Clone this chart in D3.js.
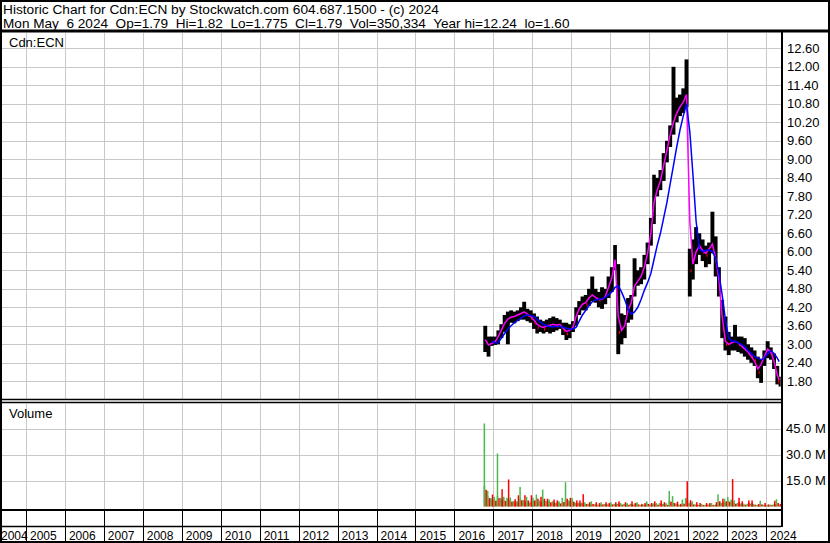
<!DOCTYPE html>
<html>
<head>
<meta charset="utf-8">
<script src="https://cdn.jsdelivr.net/npm/d3@7"></script>
<style>
body { margin: 0; background: #fff; }
svg { display: block; font-family: "Liberation Sans", Arial, sans-serif; }
text { white-space: pre; }
</style>
</head>
<body>
<svg id="main" width="830" height="543"></svg>
<script>
const width = 830;
const height = 543;

// monthly samples (Oct 2016 - May 2024)
const months = [
    '2016-10', '2016-11', '2016-12',
    '2017-01', '2017-02', '2017-03', '2017-04', '2017-05', '2017-06', '2017-07', '2017-08', '2017-09', '2017-10', '2017-11', '2017-12',
    '2018-01', '2018-02', '2018-03', '2018-04', '2018-05', '2018-06', '2018-07', '2018-08', '2018-09', '2018-10', '2018-11', '2018-12',
    '2019-01', '2019-02', '2019-03', '2019-04', '2019-05', '2019-06', '2019-07', '2019-08', '2019-09', '2019-10', '2019-11', '2019-12',
    '2020-01', '2020-02', '2020-03', '2020-04', '2020-05', '2020-06', '2020-07', '2020-08', '2020-09', '2020-10', '2020-11', '2020-12',
    '2021-01', '2021-02', '2021-03', '2021-04', '2021-05', '2021-06', '2021-07', '2021-08', '2021-09', '2021-10', '2021-11', '2021-12',
    '2022-01', '2022-02', '2022-03', '2022-04', '2022-05', '2022-06', '2022-07', '2022-08', '2022-09', '2022-10', '2022-11', '2022-12',
    '2023-01', '2023-02', '2023-03', '2023-04', '2023-05', '2023-06', '2023-07', '2023-08', '2023-09', '2023-10', '2023-11', '2023-12',
    '2024-01', '2024-02', '2024-03', '2024-04', '2024-05'
];
const lastDay = '2024-05-06';

const highs = [
    3.6, 3.25, 3.25, 3.25, 3.45, 3.65, 3.95, 4.06, 4.1, 4.06,
    4.1, 4.2, 4.38, 4.15, 4.1, 4.0, 3.9, 3.8, 3.75, 3.8,
    3.85, 3.9, 3.85, 3.8, 3.7, 3.7, 3.65, 3.75, 4.2, 4.4,
    4.55, 4.6, 4.8, 5.2, 4.8, 4.7, 4.85, 4.8, 5.2, 5.5,
    6.22, 5.6, 4.0, 3.95, 4.5, 4.6, 5.79, 5.4, 5.5, 5.9,
    6.3, 7.1, 8.5, 8.4, 8.65, 9.2, 9.6, 10.1, 12.0, 11.0,
    11.1, 11.3, 12.24, 6.1, 6.4, 6.8, 6.6, 6.4, 6.2, 6.3,
    7.3, 6.5, 5.5, 4.44, 3.9, 3.4, 3.25, 3.63, 3.25, 3.25,
    3.2, 3.0, 2.9, 2.8, 2.6, 2.5, 2.8, 3.1, 2.9, 2.7,
    2.3, 1.95
];
const lows = [
    2.75, 2.6, 2.95, 2.98, 3.0, 3.2, 3.4, 3.0, 3.7, 3.68,
    3.75, 3.8, 3.8, 3.75, 3.7, 3.5, 3.35, 3.4, 3.35, 3.4,
    3.35, 3.4, 3.45, 3.5, 3.3, 3.14, 3.2, 3.4, 3.6, 3.95,
    4.1, 4.1, 4.25, 4.4, 4.35, 4.2, 4.15, 4.3, 4.5, 4.7,
    5.4, 2.68, 3.0, 3.2, 3.7, 3.8, 4.55, 4.9, 4.95, 5.1,
    5.6, 6.2, 6.9, 7.8, 8.0, 8.3, 8.9, 9.4, 9.8, 10.2,
    10.4, 10.5, 10.7, 4.55, 5.1, 5.6, 5.9, 5.7, 5.5, 5.6,
    5.95, 5.2, 4.55, 3.2, 2.8, 2.65, 2.8, 2.8, 2.75, 2.7,
    2.6, 2.5, 2.4, 2.3, 1.9, 1.75, 2.3, 2.55, 2.5, 2.2,
    1.7, 1.63
];
const closes = [
    2.95, 2.95, 3.05, 3.1, 3.3, 3.5, 3.75, 3.85, 3.9, 3.9,
    3.95, 4.0, 4.05, 3.95, 3.85, 3.7, 3.55, 3.55, 3.5, 3.6,
    3.6, 3.65, 3.6, 3.65, 3.45, 3.35, 3.45, 3.6, 4.0, 4.2,
    4.35, 4.3, 4.55, 4.65, 4.5, 4.45, 4.45, 4.6, 4.9, 5.3,
    5.7, 3.4, 3.4, 3.7, 4.2, 4.4, 5.0, 5.1, 5.25, 5.6,
    6.1, 6.7, 8.0, 8.1, 8.4, 9.0, 9.4, 9.9, 10.3, 10.6,
    10.8, 11.0, 11.5, 5.4, 5.9, 6.2, 6.2, 6.0, 5.9, 6.1,
    6.3, 5.6, 4.8, 3.5, 3.0, 3.0, 3.0, 3.1, 3.0, 2.95,
    2.85, 2.7, 2.6, 2.5, 2.1, 2.3, 2.6, 2.85, 2.7, 2.3,
    1.85, 1.79
];
// short average (magenta) and long average (blue), read at mid-month
const shortAvg = [
    3.15, 2.98, 3.03, 3.08, 3.25, 3.46, 3.68, 3.82, 3.88, 3.9,
    3.95, 4.0, 4.05, 3.98, 3.9, 3.78, 3.65, 3.58, 3.55, 3.6,
    3.62, 3.65, 3.62, 3.65, 3.52, 3.42, 3.45, 3.55, 3.9, 4.15,
    4.3, 4.35, 4.5, 4.6, 4.52, 4.45, 4.45, 4.55, 4.85, 5.15,
    5.75, 3.9, 3.45, 3.6, 4.1, 4.35, 4.9, 5.05, 5.2, 5.5,
    5.95, 6.6, 7.6, 8.0, 8.3, 8.8, 9.3, 9.8, 10.2, 10.5,
    10.7, 10.85, 11.1, 7.0, 5.6, 6.0, 6.2, 6.05, 5.95, 6.1,
    6.25, 5.8, 5.1, 3.9, 3.1, 3.0, 3.05, 3.1, 3.05, 2.95,
    2.85, 2.75, 2.6, 2.45, 2.2, 2.35, 2.6, 2.85, 2.75, 2.45,
    2.0, 1.84
];
const longAvg = [
    null, null, 3.1, 3.05, 3.05, 3.2, 3.35, 3.5, 3.6, 3.7,
    3.78, 3.85, 3.92, 3.95, 3.93, 3.9, 3.82, 3.72, 3.65, 3.6,
    3.57, 3.57, 3.58, 3.58, 3.56, 3.52, 3.5, 3.5, 3.55, 3.75,
    3.95, 4.1, 4.25, 4.38, 4.44, 4.46, 4.48, 4.52, 4.6, 4.7,
    4.85, 4.9, 4.7, 4.45, 4.15, 3.98, 4.05, 4.2, 4.45, 4.75,
    5.0, 5.3, 5.75, 6.2, 6.6, 7.1, 7.6, 8.2, 8.8, 9.4,
    9.95, 10.4, 10.8, 9.9, 8.5, 7.0, 6.1, 6.0, 6.05, 6.06,
    6.0, 5.8, 5.3, 4.6, 3.8, 3.2, 3.1, 3.1, 3.05, 3.0,
    2.92, 2.8, 2.7, 2.6, 2.55, 2.5, 2.55, 2.7, 2.8, 2.7,
    2.55, 2.44
];
// volume in millions: biggest day of the month, its colour (g/r) and a typical day
const volPeak = [
    47.9, 9, 6.9, 5.6, 30.6, 10, 5.6, 15.6, 5.2, 4.2,
    6.5, 11.3, 6.5, 5.6, 6.5, 5, 6.9, 5.6, 9.8, 4.5,
    4, 4, 3.5, 3, 5, 14, 5, 5, 3.5, 3.5,
    7.1, 2.5, 2.5, 3, 2.5, 2, 2.5, 2.5, 2, 2.5,
    2.5, 3, 2, 2.5, 2, 3, 2, 2.5, 1.5, 2,
    3, 2, 3, 2, 3.5, 2.5, 2, 9, 6, 2.8,
    1.5, 4, 14.6, 3.6, 3, 2.5, 2, 1.5, 2, 2,
    2, 2.5, 7, 4.5, 4.5, 5.5, 15.8, 3.5, 5, 3,
    1.5, 3.5, 3.5, 1.5, 1.5, 3.3, 2, 1.2, 1.2, 3.3,
    4.2, 1.5
];
const volPeakSide = [
    'g', 'g', 'r', 'g', 'g', 'r', 'g', 'r', 'g', 'r',
    'r', 'g', 'r', 'g', 'r', 'g', 'g', 'r', 'g', 'r',
    'g', 'r', 'r', 'g', 'g', 'g', 'r', 'g', 'r', 'r',
    'r', 'g', 'r', 'g', 'r', 'r', 'g', 'r', 'r', 'g',
    'r', 'r', 'g', 'r', 'g', 'r', 'r', 'g', 'r', 'r',
    'g', 'r', 'r', 'g', 'r', 'r', 'g', 'g', 'g', 'r',
    'r', 'g', 'r', 'r', 'g', 'r', 'r', 'g', 'r', 'r',
    'g', 'r', 'g', 'r', 'g', 'g', 'r', 'g', 'r', 'r',
    'g', 'r', 'r', 'g', 'r', 'g', 'r', 'r', 'g', 'r',
    'g', 'r'
];
const volTypical = [
    12, 6, 4.8, 4.2, 6, 5, 4, 5, 3.5, 3.2,
    3, 4.5, 3.8, 3.5, 3, 3.5, 4.5, 3.5, 4.5, 3.2,
    3, 3, 2.5, 2.2, 2.6, 4.5, 3.5, 3.5, 2.2, 2.2,
    2.2, 1.5, 1.6, 1.8, 1.5, 1.2, 1.5, 1.5, 1.3, 1.5,
    1.5, 1.8, 1.3, 1.5, 1.2, 1.6, 1.2, 1.5, 0.9, 1.2,
    1.8, 1.2, 1.8, 1.3, 2, 1.5, 1.2, 3.5, 2.5, 1.8,
    1, 2, 5, 2.4, 1.5, 1.2, 1, 0.9, 1.2, 1.2,
    1.1, 1.3, 3, 2.5, 3, 3.5, 4, 2, 2.5, 2,
    1, 2, 2, 1, 1, 1.5, 1, 0.8, 0.8, 1.5,
    2, 0.8
];

const yearLabels = ['2004', '2005', '2006', '2007', '2008', '2009', '2010', '2011', '2012', '2013', '2014',
    '2015', '2016', '2017', '2018', '2019', '2020', '2021', '2022', '2023', '2024'];
const priceTicks = [1.8, 2.4, 3.0, 3.6, 4.2, 4.8, 5.4, 6.0, 6.6, 7.2, 7.8, 8.4, 9.0, 9.6, 10.2, 10.8, 11.4, 12.0, 12.6];
const volTicks = [15, 30, 45];

const headLine1 = 'Historic Chart for Cdn:ECN by Stockwatch.com 604.687.1500 - (c) 2024';
const headLine2 = 'Mon May  6 2024  Op=1.79  Hi=1.82  Lo=1.775  Cl=1.79  Vol=350,334  Year hi=12.24  lo=1.60';

const parseMonth = d3.utcParse('%Y-%m');
const parseDay = d3.utcParse('%Y-%m-%d');

const data = months.map((m, i) => ({
    date: parseMonth(m),
    high: highs[i],
    low: lows[i],
    close: closes[i],
    shortAvg: shortAvg[i],
    longAvg: longAvg[i],
    peak: volPeak[i],
    peakUp: volPeakSide[i] === 'g',
    typical: volTypical[i],
    up: i === 0 || closes[i] >= closes[i - 1]
}));
data.forEach((d, i) => {
    d.end = i < data.length - 1 ? data[i + 1].date : parseDay(lastDay);
});

const axisX = 781;
const price = { top: 33, bottom: 399 };
const volume = { top: 404, bottom: 509 };

const xScale = d3.scaleUtc()
    .domain([new Date(Date.UTC(2005, 0, 1)), new Date(Date.UTC(2024, 0, 1))])
    .range([26, 766]);
const yScale = d3.scaleLinear().domain([1.8, 12.6]).range([381.3, 48.3]);
const vScale = d3.scaleLinear().domain([0, 45]).range([506.5, 428.5]);

const svg = d3.select('#main');
svg.append('rect').attr('width', width).attr('height', height).attr('fill', '#fff');

const defs = svg.append('defs');
defs.append('clipPath').attr('id', 'clip-price')
    .append('rect').attr('x', 0).attr('y', price.top).attr('width', axisX).attr('height', price.bottom - price.top);
defs.append('clipPath').attr('id', 'clip-vol')
    .append('rect').attr('x', 0).attr('y', volume.top).attr('width', axisX).attr('height', volume.bottom - volume.top);

const yearDates = yearLabels.map(y => new Date(Date.UTC(+y, 0, 1)));
const gridColor = '#c8c8c8';

// grids
const grid = svg.append('g').attr('stroke', gridColor).attr('stroke-width', 1);
yearDates.slice(1).forEach(d => {
    const x = Math.round(xScale(d)) + 0.5;
    grid.append('line').attr('x1', x).attr('x2', x).attr('y1', price.top).attr('y2', price.bottom);
    grid.append('line').attr('x1', x).attr('x2', x).attr('y1', volume.top).attr('y2', volume.bottom);
});
priceTicks.forEach(v => {
    const y = Math.round(yScale(v)) + 0.5;
    grid.append('line').attr('x1', 0).attr('x2', axisX).attr('y1', y).attr('y2', y);
});
volTicks.forEach(v => {
    const y = Math.round(vScale(v)) + 0.5;
    grid.append('line').attr('x1', 0).attr('x2', axisX).attr('y1', y).attr('y2', y);
});

// price bars (slight overlap so neighbouring months join up)
const barW = d => Math.max(1.5, xScale(d.end) - xScale(d.date));
const priceGroup = svg.append('g').attr('clip-path', 'url(#clip-price)');
priceGroup.selectAll('rect.bar')
    .data(data)
    .join('rect')
    .attr('class', 'bar')
    .attr('x', d => xScale(d.date) - 0.3)
    .attr('width', d => barW(d) + 0.6)
    .attr('y', d => yScale(d.high))
    .attr('height', d => yScale(d.low) - yScale(d.high))
    .attr('fill', '#000');

priceGroup.selectAll('rect.down')
    .data(data.filter(d => !d.up))
    .join('rect')
    .attr('class', 'down')
    .attr('x', d => xScale(d.end) - 1)
    .attr('width', 1)
    .attr('y', d => yScale(d.close) - 1)
    .attr('height', 3)
    .attr('fill', '#ff0000');

const mid = d => (xScale(d.date) + xScale(d.end)) / 2;
const shortLine = d3.line().x(mid).y(d => yScale(d.shortAvg));
const longLine = d3.line().defined(d => d.longAvg != null).x(mid).y(d => yScale(d.longAvg));

priceGroup.append('path')
    .attr('d', shortLine(data))
    .attr('fill', 'none')
    .attr('stroke', '#ff00ff')
    .attr('stroke-width', 1.5);
priceGroup.append('path')
    .attr('d', longLine(data))
    .attr('fill', 'none')
    .attr('stroke', '#0000ff')
    .attr('stroke-width', 1.5);

// volume bars: each month split into an up half (green) and a down half (red)
const volGroup = svg.append('g').attr('clip-path', 'url(#clip-vol)');
const green = '#4cb84c';
const red = '#ff0000';
volGroup.selectAll('rect.typ-up')
    .data(data)
    .join('rect')
    .attr('class', 'typ-up')
    .attr('x', d => xScale(d.date))
    .attr('width', d => barW(d) / 2)
    .attr('y', d => vScale(d.typical * (d.up ? 1 : 0.8)))
    .attr('height', d => vScale(0) - vScale(d.typical * (d.up ? 1 : 0.8)))
    .attr('fill', green);
volGroup.selectAll('rect.typ-down')
    .data(data)
    .join('rect')
    .attr('class', 'typ-down')
    .attr('x', d => xScale(d.date) + barW(d) / 2)
    .attr('width', d => barW(d) / 2)
    .attr('y', d => vScale(d.typical * (d.up ? 0.8 : 1)))
    .attr('height', d => vScale(0) - vScale(d.typical * (d.up ? 0.8 : 1)))
    .attr('fill', red);
volGroup.selectAll('rect.peak')
    .data(data)
    .join('rect')
    .attr('class', 'peak')
    .attr('x', d => xScale(d.date) + (d.peakUp ? 0 : barW(d) / 2))
    .attr('width', 1.5)
    .attr('y', d => vScale(d.peak))
    .attr('height', d => vScale(0) - vScale(d.peak))
    .attr('fill', d => d.peakUp ? green : red);

// right axes
const priceAxis = d3.axisRight(yScale)
    .tickValues(priceTicks)
    .tickFormat(d3.format('.2f'))
    .tickSize(0)
    .tickPadding(6);
const volAxis = d3.axisRight(vScale)
    .tickValues(volTicks)
    .tickFormat(d => d.toFixed(1) + ' M')
    .tickSize(0)
    .tickPadding(5);
[[priceAxis, 'price-axis'], [volAxis, 'vol-axis']].forEach(([axis, cls]) => {
    const g = svg.append('g').attr('class', cls).attr('transform', `translate(${axisX}, 0)`).call(axis);
    g.select('.domain').remove();
    g.selectAll('text').attr('fill', '#000').style('font-size', '13px')
        .style('font-family', '"Liberation Sans", Arial, sans-serif');
});

// frame lines
const frame = svg.append('g').attr('stroke', '#000');
frame.append('rect').attr('x', 1).attr('y', 1).attr('width', width - 2).attr('height', height - 2)
    .attr('fill', 'none').attr('stroke-width', 2);
frame.append('line').attr('x1', 0).attr('x2', width).attr('y1', 31).attr('y2', 31).attr('stroke-width', 3);
frame.append('line').attr('x1', axisX + 1).attr('x2', axisX + 1).attr('y1', 31).attr('y2', 527).attr('stroke-width', 2);
frame.append('line').attr('x1', 0).attr('x2', axisX).attr('y1', 399.5).attr('y2', 399.5).attr('stroke-width', 1.5);
frame.append('line').attr('x1', 0).attr('x2', axisX).attr('y1', 402.5).attr('y2', 402.5).attr('stroke-width', 1.5);
frame.append('line').attr('x1', 0).attr('x2', axisX).attr('y1', 510).attr('y2', 510).attr('stroke-width', 2);
frame.append('line').attr('x1', 0).attr('x2', axisX).attr('y1', 526.5).attr('y2', 526.5).attr('stroke-width', 1.5);
yearDates.slice(1).forEach(d => {
    const x = Math.round(xScale(d)) + 0.5;
    frame.append('line').attr('x1', x).attr('x2', x).attr('y1', 511).attr('y2', height).attr('stroke-width', 1);
});

// year labels
svg.append('g')
    .selectAll('text')
    .data(yearLabels)
    .join('text')
    .attr('x', (d, i) => Math.max(1, xScale(yearDates[i]) + 4))
    .attr('y', 540)
    .attr('font-size', 12)
    .attr('fill', '#000')
    .text(d => d);

// titles
svg.append('text').attr('x', 3).attr('y', 13.5).attr('font-size', 13.7).text(headLine1);
svg.append('text').attr('x', 3).attr('y', 27.5).attr('font-size', 13.6).text(headLine2);
svg.append('text').attr('x', 9).attr('y', 47).attr('font-size', 13).text('Cdn:ECN');
svg.append('text').attr('x', 9).attr('y', 418).attr('font-size', 13).text('Volume');
</script>
</body>
</html>
